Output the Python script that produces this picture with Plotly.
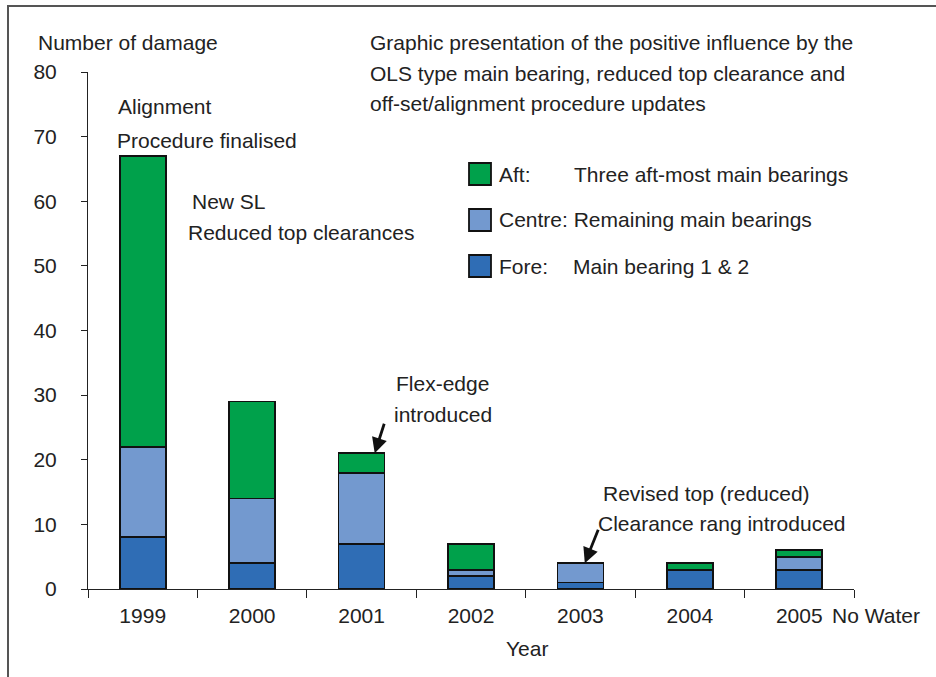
import plotly.graph_objects as go

# Damage counts per year, split by bearing position
years = ["1999", "2000", "2001", "2002", "2003", "2004", "2005"]
fore = [8, 4, 7, 2, 1, 3, 3]
centre = [14, 10, 11, 1, 3, 0, 2]
aft = [45, 15, 3, 4, 0, 1, 1]

y_ticks = [0, 10, 20, 30, 40, 50, 60, 70, 80]

series_names = ["Fore", "Centre", "Aft"]
series_colors = ["#2F6DB5", "#7399CF", "#00A14B"]

W, H = 936, 677
L, R, T, B = 88, 854, 72, 589  # plot area in pixels

FONT = "Liberation Sans, Arial, sans-serif"
TXT = "#222222"
FS = 21


def px(x):
    return (x - L) / (R - L)


def py(y):
    return (B - y) / (B - T)


fig = go.Figure()
for name, vals, col in zip(series_names, [fore, centre, aft], series_colors):
    fig.add_trace(go.Bar(
        x=years, y=vals, name=name, width=0.42,
        marker=dict(color=col, line=dict(color="#111111", width=1.8)),
        showlegend=False,
    ))

annotations = []


def label(text, x, y, anchor="left", size=FS):
    annotations.append(dict(
        text=text, x=px(x), y=py(y), xref="paper", yref="paper",
        xanchor=anchor, yanchor="middle", showarrow=False,
        font=dict(family=FONT, size=size, color=TXT),
    ))


label("Number of damage", 36, 43)
label("Graphic presentation of the positive influence by the", 368, 43)
label("OLS type main bearing, reduced top clearance and", 368, 73)
label("off-set/alignment procedure updates", 368, 103)
label("Alignment", 116, 107)
label("Procedure finalised", 115, 140)
label("New SL", 190, 201)
label("Reduced top clearances", 186, 233)
label("Flex-edge", 442, 384, anchor="center")
label("introduced", 443, 414, anchor="center")
label("Revised top (reduced)", 601, 493)
label("Clearance rang introduced", 596, 523)
label("Year", 527, 648, anchor="center")
label("No Water", 830, 615)

# Legend entries drawn beside the plot contents
legend_rows = [
    ("Aft:", "Three aft-most main bearings", 572, series_colors[2], 174),
    ("Centre: Remaining main bearings", None, None, series_colors[1], 220),
    ("Fore:", "Main bearing 1 & 2", 571, series_colors[0], 266),
]
shapes = []
for head, tail, tail_x, col, yc in legend_rows:
    shapes.append(dict(
        type="rect", xref="paper", yref="paper",
        x0=px(469), x1=px(491), y0=py(yc - 11), y1=py(yc + 11),
        fillcolor=col, line=dict(color="#111111", width=1.8),
    ))
    label(head, 497, yc)
    if tail:
        label(tail, tail_x, yc)

# Arrows pointing at the 2001 and 2003 bars
for xi, yv, ax, ay in [(2.12, fore[2] + centre[2] + aft[2], 10, -31),
                       (4.04, fore[4] + centre[4] + aft[4], 14, -35)]:
    annotations.append(dict(
        x=xi, y=yv, xref="x", yref="y", text="", showarrow=True,
        ax=ax, ay=ay, axref="pixel", ayref="pixel",
        arrowhead=2, arrowsize=1.1, arrowwidth=2.8, arrowcolor="#111111",
    ))

# Outer frame (left and top edges)
shapes.append(dict(
    type="path", xref="paper", yref="paper",
    path=f"M {px(8)} {py(H + 5)} L {px(8)} {py(6)} L {px(W + 5)} {py(6)}",
    line=dict(color="#555555", width=2),
))

fig.update_layout(
    width=W, height=H,
    margin=dict(l=L, r=W - R, t=T, b=H - B, pad=0),
    paper_bgcolor="white", plot_bgcolor="white",
    barmode="stack",
    font=dict(family=FONT, size=FS, color=TXT),
    annotations=annotations,
    shapes=shapes,
    xaxis=dict(
        type="category", range=[-0.5, 6.5],
        showline=True, linecolor="#222222", linewidth=1,
        ticks="outside", tickson="boundaries", ticklen=8,
        tickcolor="#222222", tickwidth=1,
        showgrid=False, zeroline=False,
        tickfont=dict(family=FONT, size=FS, color=TXT),
        ticklabelstandoff=8,
    ),
    yaxis=dict(
        range=[0, 80], tickvals=y_ticks,
        showline=True, linecolor="#222222", linewidth=1,
        ticks="outside", ticklen=6, tickcolor="#222222", tickwidth=1,
        showgrid=False, zeroline=False,
        tickfont=dict(family=FONT, size=FS, color=TXT),
        ticklabelstandoff=20,
    ),
)

fig.write_html("out.html")
